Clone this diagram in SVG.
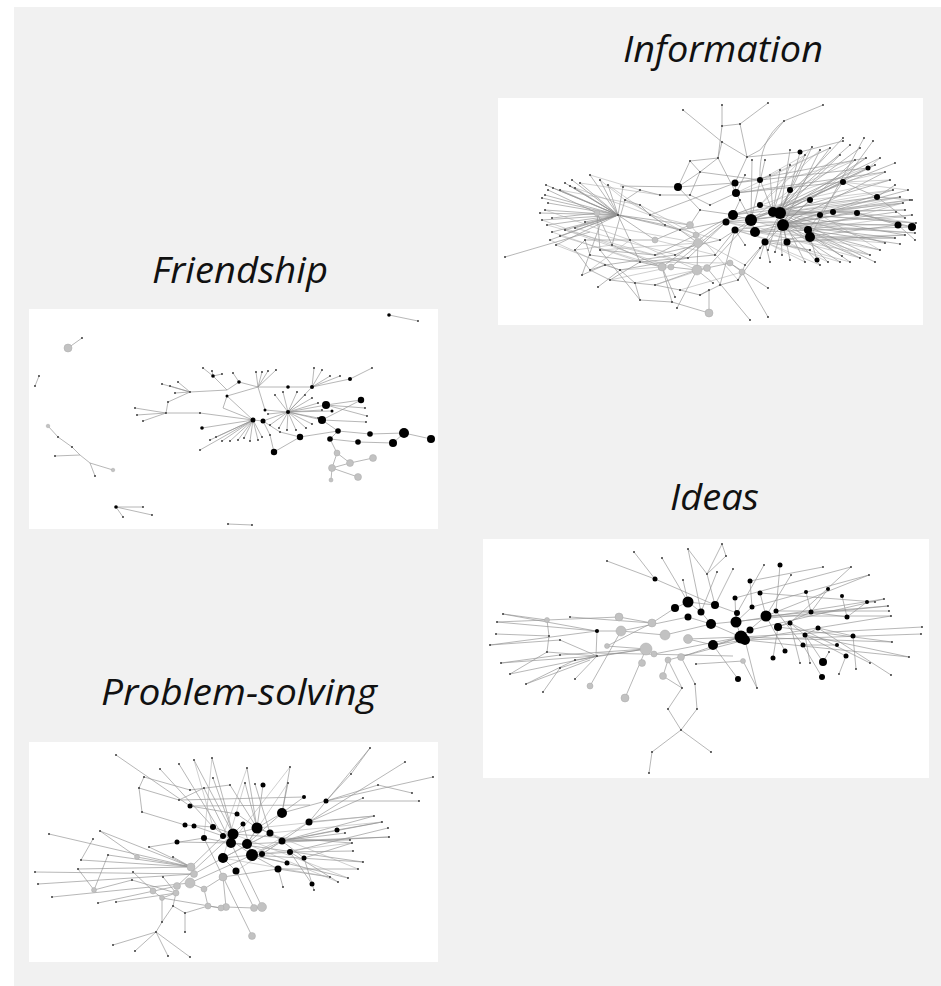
<svg xmlns="http://www.w3.org/2000/svg" width="941" height="986" viewBox="0 0 941 986">
<style>
.bg{fill:#f1f1f1}
.panel{fill:#fff}
.e{stroke:#8f8f8f;stroke-width:0.65;fill:none}
.e2{stroke:#a8a8a8;stroke-width:0.55;fill:none}
.t{stroke:#3c3c3c;stroke-width:2;stroke-linecap:round;fill:none}
.b{fill:#000}
.g{fill:#c2c2c2;stroke:#aaa;stroke-width:0.5}
.title{font-family:"Open Sans","Noto Sans","Liberation Sans",sans-serif;font-style:italic;font-size:36px;fill:#111}
</style>
<rect width="941" height="986" fill="#fff"/>
<rect class="bg" x="14" y="7" width="927" height="979"/>

<g id="information">
<text class="title" x="623" y="62" textLength="200" lengthAdjust="spacingAndGlyphs">Information</text>
<rect class="panel" x="498" y="98" width="425" height="227"/>
<path class="e" d="M780 213 L790 150 M780 213 L805 155 M780 213 L812 147 M783 225 L820 150 M780 213 L830 148 M780 213 L840 155 M783 225 L855 160 M780 213 L866 158 M780 213 L875 165 M783 225 L885 172 M780 213 L890 180 M783 225 L893 190 M780 213 L900 197 M783 225 L903 203 M780 213 L905 210 M783 225 L912 215 M780 213 L916 223 M783 225 L915 233 M780 213 L905 235 M783 225 L895 238 M780 213 L885 243 M783 225 L880 250 M780 213 L870 255 M783 225 L860 258 M780 213 L850 262 M783 225 L840 262 M780 213 L828 262 M783 225 L820 265 M780 213 L805 262 M783 225 L790 260 M780 213 L782 255 M783 225 L775 252 M780 213 L768 250 M783 225 L760 248 M773 212 L850 145 M773 212 L843 138 M810 237 L864 138 M808 230 L873 141 M773 212 L860 148 M751 220 L880 158 M751 220 L895 163 M755 232 L908 190 M751 220 L910 200 M755 232 L896 212 M808 230 L900 244 M808 230 L875 262 M810 237 L842 256 M765 242 L810 250 M773 212 L790 165 M773 212 L780 170 M773 212 L770 175 M751 220 L765 160 M751 220 L752 160 M736 193 L745 175 M733 215 L740 200 M735 230 L745 245 M765 242 L770 262 M765 242 L760 258 M877 197 L912 200 M877 197 L895 185 M877 197 L905 218 M898 225 L912 227 M898 225 L915 240 M857 213 L912 227 M787 242 L905 235 M810 237 L895 238 M735 183 L866 158 M736 193 L885 172 M726 222 L903 203"/>
<path class="e2" d="M773 212 L905 210 M773 212 L893 190 M773 212 L916 223 M751 220 L900 197 M751 220 L915 233 M755 232 L885 243 M755 232 L870 255 M733 215 L890 180 M733 215 L875 165 M736 193 L855 160 M736 193 L830 148 M726 222 L880 250 M726 222 L860 258 M735 230 L850 262 M735 230 L840 262 M787 242 L828 262 M787 242 L895 238 M810 237 L905 235 M808 230 L912 215 M808 230 L903 203 M843 182 L890 180 M843 182 L885 172 M843 182 L908 190 M868 168 L875 165 M868 168 L880 158 M833 212 L910 200 M833 212 L916 223 M857 213 L905 218 M820 215 L900 197 M820 215 L880 250 M810 200 L866 158 M810 200 L893 190 M790 190 L855 160 M790 190 L840 155 M760 205 L812 147 M760 205 L820 150 M760 180 L805 155 M760 180 L830 148 M765 242 L820 265 M765 242 L805 262 M751 220 L870 255 M773 212 L860 258 M783 225 L898 225 M780 213 L877 197 M780 213 L843 182 M783 225 L833 212 M773 212 L868 168 M751 220 L790 190 M733 215 L810 200"/>
<path class="e" d="M780 213 L773 212 M780 213 L783 225 M773 212 L751 220 M751 220 L733 215 M733 215 L726 222 M751 220 L755 232 M755 232 L735 230 M783 225 L787 242 M783 225 L808 230 M808 230 L810 237 M780 213 L765 242 M736 193 L735 183 M735 183 L760 180 M760 180 L773 212 M736 193 L751 220 M678 187 L735 183 M790 190 L780 213 M810 200 L783 225 M820 215 L833 212 L857 213 L898 225 M843 182 L780 213 M868 168 L773 212 M800 152 L790 190 M817 260 L810 237 M760 205 L733 215 M877 197 L843 182 M760 180 L868 168 M736 193 L843 182 M735 230 L857 213 M726 222 L898 225 M760 205 L820 215 M733 215 L877 197 M755 232 L912 227 M765 242 L898 225"/>
<path class="e" d="M618 215 L546 185 M618 215 L553 188 M618 215 L560 190 M618 215 L565 183 M618 215 L570 186 M618 215 L575 188 M618 215 L572 180 M618 215 L580 183 M618 215 L545 195 M618 215 L542 198 M618 215 L548 203 M618 215 L545 210 M618 215 L540 213 M618 215 L542 220 M618 215 L547 225 M618 215 L552 232 M618 215 L550 240 M618 215 L556 245 M618 215 L560 236 M618 215 L565 230 M618 215 L575 228 M618 215 L585 222 M618 215 L600 180 M618 215 L608 185 M618 215 L590 175 M597 213 L548 190 M597 213 L552 218"/>
<path class="e" d="M620 186 L678 187 M623 187 L618 215 M640 205 L650 215 L665 225 L680 230 L698 243 L697 270 L707 268 L730 263 L742 272 M630 240 L655 240 L690 225 L700 210 L735 215 M612 245 L662 267 L671 267 L697 270 M600 250 L655 255 L696 235 L733 215 M590 255 L640 262 L662 267 M605 265 L675 255 L698 243 M620 270 L688 258 L726 222 M640 262 L715 255 L735 230 M655 255 L720 240 L751 220 M575 250 L590 270 L610 280 L635 283 L655 285 L680 290 L700 295 L720 285 L738 280 L745 265 M590 270 L605 265 L620 270 M640 300 L672 302 L709 313 M709 313 L709 290 L700 295 M672 302 L662 267 M640 300 L635 283 M660 195 L640 190 L625 200 L640 205 M690 195 L710 205 L736 193 M660 195 L690 195 L700 172 M625 200 L612 245 M585 240 L575 250 M585 240 L630 240 M618 215 L665 225 M618 215 L680 230 M618 215 L690 225 M618 215 L655 240 M618 215 L640 262 M597 213 L612 245 M597 213 L600 250 M582 275 L600 225 M582 275 L605 265 M598 287 L620 270 M505 257 L590 232 M677 308 L697 270 M750 320 L707 268 M768 317 L742 272 M768 288 L730 263 M713 283 L697 270 M675 297 L662 267 M745 265 L765 242 M738 280 L765 242 M720 285 L735 230 M662 267 L733 215 M671 267 L726 222 M707 268 L751 220 M680 230 L773 212 M650 215 L735 183 M700 210 L678 187 M690 161 L678 187 L700 172 M610 280 L640 262 M655 285 L697 270 M590 255 L585 240 M600 250 L640 300 M620 270 L635 283"/>
<path class="e2" d="M560 236 L662 267 M565 230 L671 267 M552 232 L640 262 M547 225 L655 255 M575 228 L688 258 M585 222 L698 243 M560 190 L640 205 M570 186 L650 215 M580 183 L660 195 M545 210 L630 240 M542 220 L612 245 M556 245 L620 270 M550 240 L605 265 M590 175 L640 190 M600 180 L625 200 M608 185 L665 225 M630 240 L697 270 M612 245 L707 268 M600 250 L698 243 M640 262 L730 263 M655 240 L715 255 M665 225 L720 240 M680 230 L745 265 M690 225 L738 280 M640 205 L696 235 M650 215 L690 225 M625 200 L680 230 M610 280 L671 267 M635 283 L697 270 M655 285 L707 268 M680 290 L742 272 M620 270 L662 267 M590 270 L630 240 M575 250 L612 245"/>
<path class="e" d="M722 105 L722 126 L740 124 L747 157 L722 142 L718 158 L700 172 L690 161 M683 110 L722 142 M768 103 L740 124 M823 105 L784 121 L760 150 L747 157 M784 121 Q758 140 760 180 M718 158 L736 193 M747 157 L735 183 M747 157 L800 152 M843 141 L800 152 M700 172 L760 180 M718 158 L690 161 M722 126 L718 158"/>
<path class="t" d="M790 150h0M805 155h0M812 147h0M820 150h0M830 148h0M840 155h0M855 160h0M866 158h0M875 165h0M885 172h0M890 180h0M893 190h0M900 197h0M903 203h0M905 210h0M912 215h0M916 223h0M915 233h0M905 235h0M895 238h0M885 243h0M880 250h0M870 255h0M860 258h0M850 262h0M840 262h0M828 262h0M820 265h0M805 262h0M790 260h0M782 255h0M775 252h0M768 250h0M760 248h0M850 145h0M843 138h0M864 138h0M873 141h0M860 148h0M880 158h0M895 163h0M908 190h0M910 200h0M896 212h0M900 244h0M875 262h0M842 256h0M810 250h0M790 165h0M780 170h0M770 175h0M765 160h0M752 160h0M745 175h0M740 200h0M745 245h0M770 262h0M760 258h0M912 200h0M895 185h0M905 218h0M915 240h0M546 185h0M553 188h0M560 190h0M565 183h0M570 186h0M575 188h0M572 180h0M580 183h0M545 195h0M542 198h0M548 203h0M545 210h0M540 213h0M542 220h0M547 225h0M552 232h0M550 240h0M556 245h0M560 236h0M565 230h0M575 228h0M585 222h0M600 180h0M608 185h0M590 175h0M548 190h0M552 218h0M722 105h0M768 103h0M823 105h0M683 110h0M843 141h0M505 257h0M582 275h0M598 287h0M677 308h0M750 320h0M768 317h0M768 288h0M713 283h0M675 297h0M722 126h0M740 124h0M784 121h0M722 142h0M747 157h0M718 158h0M700 172h0M690 161h0M640 205h0M650 215h0M665 225h0M680 230h0M630 240h0M612 245h0M600 250h0M590 255h0M605 265h0M620 270h0M640 262h0M655 255h0M675 255h0M688 258h0M715 255h0M720 240h0M700 210h0M660 195h0M640 190h0M625 200h0M690 195h0M710 205h0M585 240h0M575 250h0M590 270h0M610 280h0M635 283h0M655 285h0M680 290h0M700 295h0M720 285h0M738 280h0M745 265h0M640 300h0M672 302h0M709 290h0M618 215h0M623 187h0"/>
<circle class="b" cx="780" cy="213" r="6"/><circle class="b" cx="773" cy="212" r="5"/><circle class="b" cx="783" cy="225" r="6"/><circle class="b" cx="751" cy="220" r="6"/><circle class="b" cx="755" cy="232" r="5"/><circle class="b" cx="733" cy="215" r="5"/><circle class="b" cx="726" cy="222" r="3.5"/><circle class="b" cx="735" cy="230" r="3.5"/><circle class="b" cx="765" cy="242" r="3.5"/><circle class="b" cx="787" cy="242" r="3.5"/><circle class="b" cx="808" cy="230" r="4"/><circle class="b" cx="810" cy="237" r="5"/><circle class="b" cx="735" cy="183" r="3.5"/><circle class="b" cx="736" cy="193" r="4"/><circle class="b" cx="678" cy="187" r="4"/><circle class="b" cx="898" cy="225" r="3.5"/><circle class="b" cx="912" cy="227" r="4"/><circle class="b" cx="877" cy="197" r="3"/><circle class="b" cx="868" cy="168" r="2.5"/><circle class="b" cx="800" cy="152" r="2.5"/><circle class="b" cx="833" cy="212" r="3"/><circle class="b" cx="843" cy="182" r="3"/><circle class="b" cx="857" cy="213" r="3"/><circle class="b" cx="817" cy="260" r="2.5"/><circle class="b" cx="760" cy="180" r="3"/><circle class="b" cx="790" cy="190" r="3"/><circle class="b" cx="810" cy="200" r="3"/><circle class="b" cx="820" cy="215" r="3"/><circle class="b" cx="760" cy="205" r="3"/>
<circle class="g" cx="662" cy="267" r="4"/><circle class="g" cx="671" cy="267" r="3"/><circle class="g" cx="697" cy="270" r="5"/><circle class="g" cx="707" cy="268" r="3.5"/><circle class="g" cx="698" cy="243" r="4.5"/><circle class="g" cx="696" cy="235" r="3"/><circle class="g" cx="709" cy="313" r="4"/><circle class="g" cx="730" cy="263" r="3"/><circle class="g" cx="742" cy="272" r="3"/><circle class="g" cx="597" cy="213" r="3"/><circle class="g" cx="690" cy="225" r="3.5"/><circle class="g" cx="655" cy="240" r="3"/>
</g>

<g id="friendship">
<text class="title" x="152" y="283" textLength="176" lengthAdjust="spacingAndGlyphs">Friendship</text>
<rect class="panel" x="29" y="309" width="409" height="220"/>
<path class="e" d="M389 315 L418 321 M68 348 L82 338 M39 376 L35 386 M48 426 L58 437 L72 447 L80 455 L90 463 L95 476 M90 463 L113 470 M80 455 L55 456 M116 507 L143 507 M116 507 L152 515 M116 507 L123 517 M228 524 L252 525"/>
<path class="e" d="M288 412 L275 395 M288 412 L283 392 M288 412 L297 392 M288 412 L305 395 M288 412 L312 398 M288 412 L318 403 M288 412 L322 410 M288 412 L318 418 M288 412 L312 424 M288 412 L306 428 M288 412 L296 430 M288 412 L287 430 M288 412 L279 428 M288 412 L270 425 M288 412 L268 414 M288 412 L326 405 M288 412 L322 420 M288 412 L263 421 M288 412 L265 410 M253 420 L263 421 L280 432 L300 437 L338 431 L370 434 L404 433 L431 439 M330 439 L358 442 L393 443 L404 433 M338 431 L330 439 M322 420 L338 431 M326 405 L361 400 M326 405 L365 408 M326 405 L367 416 M322 420 L366 422 M274 452 L270 435 L263 421 M253 420 L223 408 M253 420 L227 396 M253 420 L200 413 L166 413 M166 413 L135 408 M166 413 L137 415 M166 413 L143 421 M166 413 L168 402 L190 392 M190 392 L162 384 M190 392 L170 386 M190 392 L175 393 M190 392 L178 382 M190 392 L227 390 L239 382 L258 387 L288 387 L312 387 M213 376 L227 390 M213 376 L203 368 M213 376 L212 371 M213 376 L222 374 M239 382 L233 373 M258 387 L256 372 M258 387 L262 372 M258 387 L268 371 M258 387 L276 370 M312 387 L314 368 M312 387 L322 370 M312 387 L330 376 M312 387 L340 376 M312 387 L350 379 L372 368 M253 420 L200 450 M253 420 L210 440 M253 420 L216 437 M253 420 L222 441 M253 420 L230 441 M253 420 L238 440 M253 420 L244 438 M253 420 L250 441 M253 420 L258 440 M253 420 L262 437 M253 420 L202 428 M223 408 L227 396 M227 396 L258 387 M265 410 L258 387 M337 453 L350 463 L373 458 M337 453 L332 468 L358 477 M332 468 L331 480 M350 463 L332 468 M330 439 L337 453 M300 437 L274 452 M288 412 L332 411 M288 412 L312 387 M322 420 L361 400"/>
<path class="t" d="M418 321h0M82 338h0M39 376h0M35 386h0M55 456h0M95 476h0M58 437h0M72 447h0M143 507h0M152 515h0M123 517h0M228 524h0M252 525h0M275 395h0M283 392h0M297 392h0M305 395h0M312 398h0M318 403h0M322 410h0M318 418h0M312 424h0M306 428h0M296 430h0M287 430h0M279 428h0M270 425h0M268 414h0M365 408h0M367 416h0M366 422h0M135 408h0M137 415h0M143 421h0M162 384h0M170 386h0M175 393h0M178 382h0M203 368h0M212 371h0M222 374h0M233 373h0M256 372h0M262 372h0M268 371h0M276 370h0M314 368h0M322 370h0M330 376h0M340 376h0M372 368h0M200 450h0M210 440h0M216 437h0M222 441h0M230 441h0M238 440h0M244 438h0M250 441h0M258 440h0M262 437h0M168 402h0M190 392h0M200 413h0M166 413h0M280 432h0M270 435h0"/>
<circle class="b" cx="389" cy="315" r="1.8"/><circle class="b" cx="116" cy="507" r="1.8"/><circle class="b" cx="253" cy="420" r="2.5"/><circle class="b" cx="263" cy="421" r="2.5"/><circle class="b" cx="288" cy="412" r="2"/><circle class="b" cx="326" cy="405" r="4"/><circle class="b" cx="322" cy="420" r="4"/><circle class="b" cx="361" cy="400" r="3.2"/><circle class="b" cx="338" cy="431" r="2.8"/><circle class="b" cx="330" cy="439" r="2.8"/><circle class="b" cx="358" cy="442" r="2.8"/><circle class="b" cx="370" cy="434" r="2.8"/><circle class="b" cx="393" cy="443" r="4"/><circle class="b" cx="404" cy="433" r="5"/><circle class="b" cx="431" cy="439" r="4"/><circle class="b" cx="300" cy="437" r="3.2"/><circle class="b" cx="274" cy="452" r="3.2"/><circle class="b" cx="202" cy="428" r="1.8"/><circle class="b" cx="213" cy="376" r="1.8"/><circle class="b" cx="239" cy="382" r="1.8"/><circle class="b" cx="350" cy="379" r="2"/><circle class="b" cx="312" cy="387" r="2"/><circle class="b" cx="288" cy="387" r="1.8"/><circle class="b" cx="265" cy="410" r="1.5"/><circle class="b" cx="332" cy="411" r="1.5"/><circle class="b" cx="227" cy="396" r="1.5"/>
<circle class="g" cx="68" cy="348" r="4"/><circle class="g" cx="48" cy="426" r="1.8"/><circle class="g" cx="113" cy="470" r="1.8"/><circle class="g" cx="337" cy="453" r="3"/><circle class="g" cx="350" cy="463" r="3.5"/><circle class="g" cx="332" cy="468" r="3.5"/><circle class="g" cx="373" cy="458" r="3.5"/><circle class="g" cx="358" cy="477" r="3.5"/><circle class="g" cx="331" cy="480" r="2"/>
</g>

<g id="ideas">
<text class="title" x="670" y="510" textLength="89" lengthAdjust="spacingAndGlyphs">Ideas</text>
<rect class="panel" x="483" y="539" width="446" height="239"/>
<path class="e" d="M688 602 L675 608 M688 602 L715 605 M688 602 L701 612 L711 624 M688 617 L711 624 M715 605 L737 613 L736 622 M711 624 L741 637 L745 640 M736 622 L741 637 M713 645 L741 637 M766 616 L741 637 M750 630 L741 637 M752 607 L736 622 M735 598 L736 622 M760 593 L766 616 M750 581 L752 607 M780 565 L776 611 M778 627 L790 623 L805 635 L818 628 M811 612 L778 627 M823 662 L805 635 M822 677 L803 645 M738 679 L713 645 M773 658 L778 627 M785 651 L766 616 M803 645 L776 611 M847 617 L811 612 M846 656 L805 635 M853 636 L818 628 M837 645 L803 645 M806 592 L811 612 M828 589 L811 612 M842 596 L847 617 M867 602 L847 617 M655 579 L715 605 M655 579 L607 561 M655 579 L634 552 M688 617 L621 631 M675 608 L652 623 M711 624 L665 635 M713 645 L688 639 M741 637 L688 639 M741 637 L681 657 M741 637 L654 654 M745 640 L668 660"/>
<path class="e" d="M741 637 L922 627 M745 640 L921 634 M766 616 L891 616 M776 611 L889 611 M766 616 L888 606 M750 630 L884 599 M805 635 L909 657 M818 628 L891 675 M778 627 L892 642 M790 623 L870 663 M853 636 L856 669 M846 656 L839 674 M805 635 L810 663 M790 623 L800 663 M823 662 L829 652 M760 593 L875 602 M752 607 L869 575 M735 598 L851 567 M750 581 L823 567 M766 616 L791 575 M737 613 L764 565 M715 605 L733 569 M701 612 L717 572 M715 605 L707 574 M688 602 L683 580 M688 602 L662 558 M701 612 L688 549 M707 574 L722 544 L726 556 L707 574 M688 549 L707 574 M745 640 L757 688 M757 688 L743 661 M743 661 L696 664 M681 657 L695 684 L697 709 M668 660 L682 688 L668 709 L681 730 L697 709 M681 730 L652 752 L649 773 M681 730 L711 752 M663 676 L682 688 M625 698 L646 649 M590 686 L621 631 M663 676 L668 660 M766 616 L869 575 M790 623 L851 567 M736 622 L884 599 M711 624 L888 606 M733 656 L597 653 M713 645 L891 616 M741 637 L892 642 M745 640 L909 657"/>
<path class="e" d="M547 620 L497 622 M547 620 L503 614 M547 620 L549 636 L547 652 M547 620 L619 617 M549 636 L496 634 M597 631 L490 645 M597 631 L596 656 L501 663 M597 656 L510 674 M590 660 L526 684 M575 679 L597 656 M543 692 L560 668 L597 656 M570 617 L652 623 M619 617 L652 623 M621 631 L665 635 M596 631 L621 631 M497 622 L597 631 M607 646 L652 623 M607 646 L646 649 M503 614 L596 631 M547 652 L597 656 M490 645 L560 640 L597 656 M597 656 L646 649 M501 663 L560 655 L646 649 M510 674 L547 652 M526 684 L575 660 L646 649"/>
<path class="t" d="M503 614h0M497 622h0M496 634h0M490 645h0M501 663h0M510 674h0M526 684h0M543 692h0M570 617h0M575 679h0M547 652h0M597 656h0M596 631h0M607 561h0M634 552h0M662 558h0M688 549h0M722 544h0M726 556h0M707 574h0M683 580h0M717 572h0M733 569h0M764 565h0M791 575h0M823 567h0M851 567h0M869 575h0M884 599h0M888 606h0M889 611h0M891 616h0M922 627h0M921 634h0M909 657h0M891 675h0M892 642h0M870 663h0M856 669h0M839 674h0M810 663h0M800 663h0M757 688h0M695 684h0M682 688h0M668 709h0M697 709h0M681 730h0M652 752h0M649 773h0M711 752h0M829 652h0M875 602h0M549 636h0M560 668h0M560 640h0M560 655h0M575 660h0M696 664h0"/>
<circle class="b" cx="688" cy="602" r="5.5"/><circle class="b" cx="675" cy="608" r="4"/><circle class="b" cx="688" cy="617" r="3.5"/><circle class="b" cx="701" cy="612" r="3.5"/><circle class="b" cx="715" cy="605" r="4"/><circle class="b" cx="711" cy="624" r="5"/><circle class="b" cx="736" cy="622" r="5.5"/><circle class="b" cx="737" cy="613" r="3"/><circle class="b" cx="741" cy="637" r="6.5"/><circle class="b" cx="745" cy="640" r="5"/><circle class="b" cx="766" cy="616" r="5.5"/><circle class="b" cx="750" cy="630" r="3.5"/><circle class="b" cx="713" cy="645" r="5"/><circle class="b" cx="752" cy="607" r="2.5"/><circle class="b" cx="735" cy="598" r="2.5"/><circle class="b" cx="760" cy="593" r="2.5"/><circle class="b" cx="750" cy="581" r="2.5"/><circle class="b" cx="780" cy="565" r="2.5"/><circle class="b" cx="778" cy="627" r="4"/><circle class="b" cx="776" cy="611" r="2.5"/><circle class="b" cx="790" cy="623" r="2.5"/><circle class="b" cx="805" cy="635" r="2.5"/><circle class="b" cx="811" cy="612" r="2.5"/><circle class="b" cx="818" cy="628" r="2.5"/><circle class="b" cx="823" cy="662" r="4"/><circle class="b" cx="822" cy="677" r="3"/><circle class="b" cx="738" cy="679" r="3"/><circle class="b" cx="773" cy="658" r="2.5"/><circle class="b" cx="785" cy="651" r="2.5"/><circle class="b" cx="803" cy="645" r="2.5"/><circle class="b" cx="847" cy="617" r="2.5"/><circle class="b" cx="846" cy="656" r="2.5"/><circle class="b" cx="853" cy="636" r="2.5"/><circle class="b" cx="837" cy="645" r="2"/><circle class="b" cx="806" cy="592" r="2"/><circle class="b" cx="828" cy="589" r="2"/><circle class="b" cx="842" cy="596" r="2"/><circle class="b" cx="867" cy="602" r="2"/><circle class="b" cx="655" cy="579" r="2.5"/><circle class="b" cx="597" cy="631" r="2"/>
<circle class="g" cx="619" cy="617" r="4"/><circle class="g" cx="621" cy="631" r="5"/><circle class="g" cx="652" cy="623" r="4"/><circle class="g" cx="665" cy="635" r="5"/><circle class="g" cx="688" cy="639" r="4.5"/><circle class="g" cx="646" cy="649" r="6"/><circle class="g" cx="654" cy="654" r="3"/><circle class="g" cx="642" cy="663" r="3.5"/><circle class="g" cx="668" cy="660" r="3"/><circle class="g" cx="681" cy="657" r="3.5"/><circle class="g" cx="663" cy="676" r="3.5"/><circle class="g" cx="625" cy="698" r="4"/><circle class="g" cx="590" cy="686" r="3"/><circle class="g" cx="547" cy="620" r="2.5"/><circle class="g" cx="743" cy="661" r="2.5"/><circle class="g" cx="607" cy="646" r="2.5"/>
</g>

<g id="problem-solving">
<text class="title" x="101" y="705" textLength="276" lengthAdjust="spacingAndGlyphs">Problem-solving</text>
<rect class="panel" x="29" y="742" width="409" height="220"/>
<path class="e" d="M282 813 L257 828 L233 834 L231 843 L247 844 L252 855 L223 858 L236 871 M247 844 L257 828 M252 855 L278 869 M282 841 L270 833 L257 828 M282 841 L252 855 M309 822 L282 841 M223 836 L233 834 M204 838 L231 843 M213 827 L233 834 M194 826 L223 836 M185 825 L213 827 M177 842 L231 843 M237 814 L257 828 M243 824 L233 834 M262 854 L282 841 M290 852 L252 855 M304 858 L282 841 M287 863 L252 855 M337 830 L282 841 M312 884 L290 852 M263 785 L257 828 M190 806 L237 814 M326 801 L282 813 M304 797 L282 813 M282 813 L247 844 M270 833 L223 858 M243 824 L252 855 M213 827 L252 855"/>
<path class="e" d="M282 841 L374 816 M282 841 L382 822 M290 852 L388 828 M282 841 L389 837 M304 858 L352 843 M290 852 L353 851 M252 855 L363 862 M278 869 L358 869 M252 855 L348 878 M290 852 L338 882 M278 869 L330 877 M304 858 L314 890 M278 869 L283 887 M282 841 L350 840 M282 841 L345 833 M309 822 L374 816 M337 830 L382 822 M233 834 L352 843 M231 843 L363 862 M247 844 L389 837 M233 834 L212 758 M233 834 L194 760 M223 836 L179 764 M213 827 L160 769 M190 806 L116 755 M257 828 L247 768 M282 813 L290 767 M257 828 L230 785 M231 843 L204 788 M257 828 L245 783 M270 833 L255 784 M282 813 L288 783 M233 834 L213 778 M309 822 L370 748 L351 774 M309 822 L405 762 M326 801 L433 777 M326 801 L378 785 L412 793 M326 801 L419 801 M309 822 L363 798 M351 774 L326 801 M144 777 L139 788 L142 812 M144 777 L190 790 L230 785 M139 788 L179 800 L204 788 M142 812 L185 825 M180 800 L304 797 M190 806 L310 805"/>
<path class="e2" d="M257 828 L358 869 M233 834 L348 878 M247 844 L338 882 M223 858 L330 877 M252 855 L352 843 M257 828 L374 816 M270 833 L382 822 M231 843 L290 767 M223 836 L247 768 M204 838 L212 758 M213 827 L194 760 M247 844 L288 783 M223 858 L245 783 M252 855 L309 822 M236 871 L282 841 M223 858 L270 833"/>
<path class="e" d="M191 867 L223 836 M191 867 L49 834 M191 867 L100 831 M149 847 L191 867 M108 855 L191 867 M191 867 L81 860 L93 839 M191 867 L78 869 M194 874 L35 872 M194 874 L38 884 M190 883 L52 897 M177 886 L98 903 M176 893 L116 902 M133 872 L153 891 M132 880 L176 893 M173 857 L191 867 M163 877 L176 893 M153 891 L162 898 L176 893 M204 889 L223 877 L204 838 M190 883 L204 889 M204 889 L208 906 L221 908 L226 907 L254 908 L262 907 M226 907 L223 877 M221 908 L162 898 M252 936 L223 877 M254 908 L236 871 M262 907 L231 843 M223 877 L278 869 M94 890 L132 880 M94 890 L108 855 M94 890 L78 869 M137 857 L191 867 M137 857 L100 831 M156 932 L113 945 M156 932 L135 951 M156 932 L168 956 M156 932 L190 957 M156 932 L162 922 L173 906 L176 893 M185 932 L185 913 L173 906 M185 913 L208 906 M162 922 L162 898 M194 874 L223 858 M190 883 L252 855 M177 886 L233 834 M149 847 L204 838"/>
<path class="t" d="M116 755h0M160 769h0M179 764h0M194 760h0M212 758h0M247 768h0M290 767h0M370 748h0M405 762h0M433 777h0M412 793h0M419 801h0M378 785h0M351 774h0M363 798h0M144 777h0M139 788h0M142 812h0M204 788h0M230 785h0M288 783h0M213 778h0M245 783h0M255 784h0M179 800h0M190 790h0M374 816h0M382 822h0M388 828h0M389 837h0M352 843h0M353 851h0M363 862h0M358 869h0M348 878h0M338 882h0M330 877h0M314 890h0M283 887h0M350 840h0M345 833h0M49 834h0M100 831h0M93 839h0M81 860h0M78 869h0M35 872h0M38 884h0M52 897h0M98 903h0M116 902h0M108 855h0M149 847h0M173 857h0M132 880h0M133 872h0M163 877h0M113 945h0M135 951h0M168 956h0M190 957h0M156 932h0M185 932h0M162 922h0M173 906h0M185 913h0"/>
<circle class="b" cx="282" cy="813" r="5"/><circle class="b" cx="257" cy="828" r="5.5"/><circle class="b" cx="233" cy="834" r="5.5"/><circle class="b" cx="231" cy="843" r="5"/><circle class="b" cx="247" cy="844" r="5"/><circle class="b" cx="252" cy="855" r="6"/><circle class="b" cx="223" cy="858" r="5"/><circle class="b" cx="236" cy="871" r="3.5"/><circle class="b" cx="278" cy="869" r="3.5"/><circle class="b" cx="270" cy="833" r="3.5"/><circle class="b" cx="282" cy="841" r="3.5"/><circle class="b" cx="309" cy="822" r="3.5"/><circle class="b" cx="223" cy="836" r="3"/><circle class="b" cx="204" cy="838" r="3"/><circle class="b" cx="213" cy="827" r="3"/><circle class="b" cx="194" cy="826" r="2.5"/><circle class="b" cx="185" cy="825" r="2.5"/><circle class="b" cx="177" cy="842" r="2.5"/><circle class="b" cx="237" cy="814" r="2.5"/><circle class="b" cx="243" cy="824" r="2.5"/><circle class="b" cx="262" cy="854" r="3"/><circle class="b" cx="290" cy="852" r="3"/><circle class="b" cx="304" cy="858" r="2.5"/><circle class="b" cx="287" cy="863" r="2.5"/><circle class="b" cx="337" cy="830" r="2.5"/><circle class="b" cx="312" cy="884" r="2.5"/><circle class="b" cx="263" cy="785" r="2.5"/><circle class="b" cx="190" cy="806" r="2.5"/><circle class="b" cx="326" cy="801" r="2.5"/><circle class="b" cx="304" cy="797" r="2"/>
<circle class="g" cx="191" cy="867" r="4"/><circle class="g" cx="194" cy="874" r="3.5"/><circle class="g" cx="190" cy="883" r="5"/><circle class="g" cx="177" cy="886" r="3.5"/><circle class="g" cx="176" cy="893" r="3"/><circle class="g" cx="153" cy="891" r="3"/><circle class="g" cx="162" cy="898" r="2.5"/><circle class="g" cx="204" cy="889" r="3"/><circle class="g" cx="223" cy="877" r="4"/><circle class="g" cx="226" cy="907" r="3.5"/><circle class="g" cx="221" cy="908" r="3"/><circle class="g" cx="208" cy="906" r="3"/><circle class="g" cx="254" cy="908" r="3.5"/><circle class="g" cx="262" cy="907" r="4.5"/><circle class="g" cx="252" cy="936" r="3.5"/><circle class="g" cx="94" cy="890" r="2.5"/><circle class="g" cx="137" cy="857" r="2.5"/>
</g>
</svg>
